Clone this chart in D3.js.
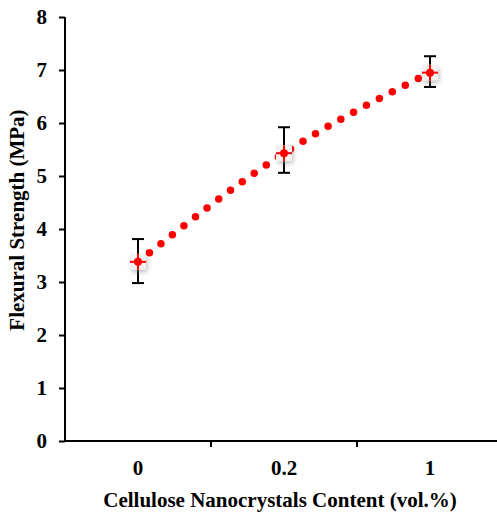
<!DOCTYPE html>
<html><head><meta charset="utf-8">
<script src="https://cdn.jsdelivr.net/npm/d3@7"></script>
<style>body{margin:0;background:#fff}svg{display:block}</style>
</head><body>
<svg id="c" width="497" height="514"></svg>
<script>
const categories = ["0", "0.2", "1"];
const strength = [3.38, 5.43, 6.95];
const errLow = [2.98, 5.06, 6.68];
const errHigh = [3.81, 5.92, 7.26];
const yTicks = [0, 1, 2, 3, 4, 5, 6, 7, 8];

const svg = d3.select("#c");
const font = "'Liberation Serif','Times New Roman',serif";
const fs = 21;
const x = d3.scaleBand().domain(categories).range([65, 503]);
const y = d3.scaleLinear().domain([0, 8]).range([441, 17]);
const cx = d => x(d) + x.bandwidth() / 2;

const defs = svg.append("defs");
defs.append("filter").attr("id", "sh").attr("x", "-50%").attr("y", "-50%").attr("width", "200%").attr("height", "200%")
  .append("feGaussianBlur").attr("stdDeviation", 2.5);

// axes
const yAxis = svg.append("g").attr("transform", "translate(65,0)")
  .call(d3.axisLeft(y).tickValues(yTicks).tickSize(6).tickPadding(12).tickFormat(d3.format("d")));
const xAxis = svg.append("g").attr("transform", "translate(0,441)")
  .call(d3.axisBottom(x).tickSize(0).tickPadding(19));
[yAxis, xAxis].forEach(g => {
  g.select(".domain").attr("stroke", "#000").attr("stroke-width", 2);
  g.selectAll(".tick line").attr("stroke", "#000").attr("stroke-width", 2);
  g.selectAll("text").attr("font-family", font).attr("font-weight", "bold").attr("font-size", fs).attr("fill", "#000");
});
yAxis.select(".domain").attr("d", `M0,${y(8)}V${y(0)}`);
xAxis.select(".domain").attr("d", `M64,0H503`);
// boundary ticks between categories
xAxis.selectAll("line.b").data(categories.slice(1)).enter().append("line").attr("class", "b")
  .attr("x1", d => x(d)).attr("x2", d => x(d)).attr("y1", 0).attr("y2", 6)
  .attr("stroke", "#000").attr("stroke-width", 2);

// titles
svg.append("text").attr("x", 280).attr("y", 507).attr("text-anchor", "middle")
  .attr("font-family", font).attr("font-weight", "bold").attr("font-size", fs)
  .text("Cellulose Nanocrystals Content (vol.%)");
svg.append("text").attr("transform", "translate(24,220) rotate(-90)").attr("text-anchor", "middle")
  .attr("font-family", font).attr("font-weight", "bold").attr("font-size", fs)
  .text("Flexural Strength (MPa)");

// dotted trend line
const pts = categories.map((c, i) => [cx(c), y(strength[i])]);
svg.append("path").attr("d", d3.line().curve(d3.curveNatural)(pts))
  .attr("fill", "none").attr("stroke", "#ff0000").attr("stroke-width", 7.5)
  .attr("stroke-linecap", "round").attr("stroke-dasharray", "0 14.6");

// error bars
const eb = svg.append("g").attr("stroke", "#000").attr("stroke-width", 2);
categories.forEach((c, i) => {
  const xx = cx(c);
  eb.append("line").attr("x1", xx).attr("x2", xx).attr("y1", y(errLow[i])).attr("y2", y(errHigh[i]));
  [errLow[i], errHigh[i]].forEach(v => eb.append("line").attr("x1", xx - 6).attr("x2", xx + 6).attr("y1", y(v)).attr("y2", y(v)));
});

// markers
categories.forEach((c, i) => {
  const xx = cx(c), yy = y(strength[i]);
  svg.append("rect").attr("x", xx - 6).attr("y", yy - 5).attr("width", 15).attr("height", 15)
    .attr("fill", "#888").attr("opacity", 0.6).attr("filter", "url(#sh)");
  svg.append("rect").attr("x", xx - 8).attr("y", yy - 8).attr("width", 16).attr("height", 16)
    .attr("fill", "#f2f2f2");
  svg.append("line").attr("x1", xx - 8).attr("x2", xx + 8).attr("y1", yy).attr("y2", yy)
    .attr("stroke", "#ff0000").attr("stroke-width", 2);
  svg.append("line").attr("x1", xx).attr("x2", xx).attr("y1", yy - 8).attr("y2", yy + 8)
    .attr("stroke", "#ff0000").attr("stroke-width", 2);
  svg.append("circle").attr("cx", xx).attr("cy", yy).attr("r", 4).attr("fill", "#ff0000");
});
</script>
</body></html>
